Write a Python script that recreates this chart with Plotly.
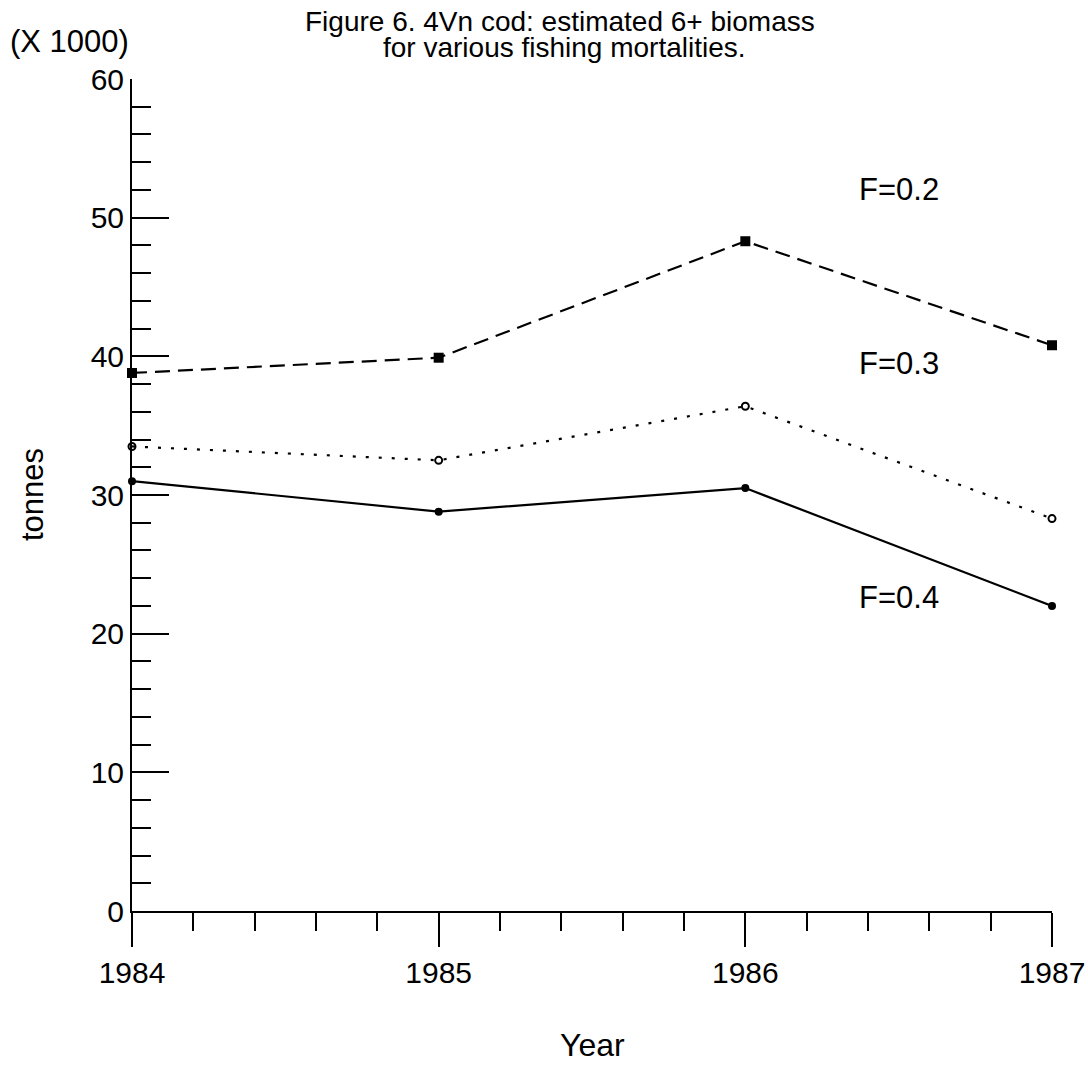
import plotly.graph_objects as go

years = [1984, 1985, 1986, 1987]
f02 = [38.8, 39.9, 48.3, 40.8]
f03 = [33.5, 32.5, 36.4, 28.3]
f04 = [31.0, 28.8, 30.5, 22.0]
series_labels = ["F=0.2", "F=0.3", "F=0.4"]
label_y = [52.0, 39.5, 22.6]
label_x = 1986.5
y_ticks = [0, 10, 20, 30, 40, 50, 60]
x_ticks = [1984, 1985, 1986, 1987]

FONT = "Liberation Sans, Arial, Helvetica, sans-serif"

W, H = 1088, 1065
PL, PR, PT, PB = 132, 1052, 79, 911  # plot area in window pixels
L, T = PL, PT
R, B = W - PR, H - PB
pw, ph = PR - PL, PB - PT


def px(x):
    return (x - PL) / pw


def py(y):
    return (PB - y) / ph


fig = go.Figure()
fig.add_trace(go.Scatter(
    x=years, y=f02, mode="lines+markers", cliponaxis=False,
    line=dict(color="black", width=2.2, dash="15px,8px"),
    marker=dict(symbol="square", size=10, color="black"),
))
fig.add_trace(go.Scatter(
    x=years, y=f03, mode="lines+markers", cliponaxis=False,
    line=dict(color="black", width=2.2, dash="3px,10px"),
    marker=dict(symbol="circle-open", size=7, color="black", line=dict(width=2)),
))
fig.add_trace(go.Scatter(
    x=years, y=f04, mode="lines+markers", cliponaxis=False,
    line=dict(color="black", width=2.2),
    marker=dict(symbol="circle", size=8, color="black"),
))

for lab, ly in zip(series_labels, label_y):
    fig.add_annotation(x=label_x, y=ly, xref="x", yref="y", text=lab,
                       showarrow=False, font=dict(size=31, color="black", family=FONT))

fig.add_annotation(x=px(560), y=py(22), xref="paper", yref="paper",
                   text="Figure 6. 4Vn cod: estimated 6+ biomass", showarrow=False,
                   font=dict(size=28, color="black", family=FONT), xanchor="center", yanchor="middle")
fig.add_annotation(x=px(564), y=py(48), xref="paper", yref="paper",
                   text="for various fishing mortalities.", showarrow=False,
                   font=dict(size=28, color="black", family=FONT), xanchor="center", yanchor="middle")
fig.add_annotation(x=px(8), y=py(41), xref="paper", yref="paper",
                   text="(X 1000)", showarrow=False,
                   font=dict(size=31, color="black", family=FONT), xanchor="left", yanchor="middle")
fig.add_annotation(x=px(32), y=py(495), xref="paper", yref="paper",
                   text="tonnes", showarrow=False, textangle=-90,
                   font=dict(size=31, color="black", family=FONT), xanchor="center", yanchor="middle")
fig.add_annotation(x=px(592), y=py(1045), xref="paper", yref="paper",
                   text="Year", showarrow=False,
                   font=dict(size=32, color="black", family=FONT), xanchor="center", yanchor="middle")

fig.update_layout(
    width=W, height=H,
    margin=dict(l=L, r=R, t=T, b=B, autoexpand=False),
    paper_bgcolor="white", plot_bgcolor="white",
    showlegend=False,
    font=dict(family=FONT, size=30, color="black"),
)
fig.update_xaxes(
    range=[1984, 1987], tickvals=x_ticks, ticktext=[str(v) for v in x_ticks],
    showgrid=False, zeroline=False, showline=True, linecolor="black", linewidth=2,
    ticks="outside", ticklen=34, tickwidth=2, tickcolor="black",
    tickfont=dict(size=30, family=FONT, color="black"),
    minor=dict(dtick=0.2, tick0=1984, ticks="outside", ticklen=18, tickwidth=2, tickcolor="black", showgrid=False),
)
fig.update_yaxes(
    range=[0, 60], tickvals=y_ticks,
    showgrid=False, zeroline=False, showline=True, linecolor="black", linewidth=2,
    ticks="inside", ticklen=37, tickwidth=2, tickcolor="black",
    tickfont=dict(size=30, family=FONT, color="black"),
    minor=dict(dtick=2, tick0=0, ticks="inside", ticklen=19, tickwidth=2, tickcolor="black", showgrid=False),
)

fig.write_html(
    "out.html",
    config={"displayModeBar": False},
    post_script="document.body.style.margin='0px';document.documentElement.style.overflow='hidden';document.body.style.overflow='hidden';",
)
